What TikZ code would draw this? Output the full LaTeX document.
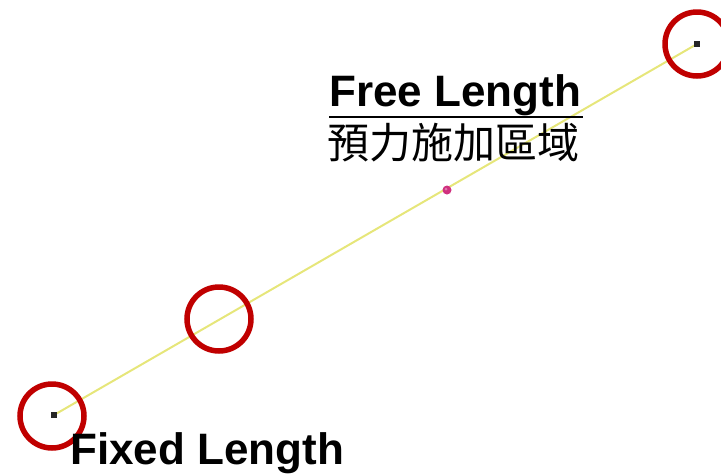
\documentclass[tikz,border=0pt]{standalone}
\usepackage{fontspec}
\setmainfont{Liberation Sans}
\newfontfamily\cjkfont{Noto Sans CJK TC}
\usepackage{tikz}
\usetikzlibrary{calc}
\definecolor{ringred}{HTML}{C00000}
\definecolor{wireyellow}{HTML}{E6E67A}
\definecolor{pinmagenta}{HTML}{D0307F}
\tikzset{
    ring/.style={draw=ringred, line width=5.5pt, circle, minimum size=64pt, inner sep=0pt},
    endmark/.style={fill=black!85, minimum size=5.5pt, inner sep=0pt},
    bigtext/.style={font=\fontsize{44}{44}\selectfont\bfseries, inner sep=0pt}
}

\begin{document}
\begin{tikzpicture}[x=1pt, y=-1pt]
    \useasboundingbox (0,0) rectangle (721,475);

    % Draw tendon
    \coordinate (a) at (54, 415);
    \coordinate (b) at (697, 44);
    \draw[wireyellow, line width=2pt] (a) -- (b);
    \node[endmark] (ma) at (a) {};
    \node[endmark] (mb) at (b) {};

    % Draw rings
    \node[ring] (r1) at (52, 416) {};
    \node[ring] (r2) at (219, 319) {};
    \node[ring] (r3) at (697, 44) {};

    % Draw midpoint
    \coordinate (m) at (447, 190);
    \fill[pinmagenta] (m) circle (4.5);
    \fill[white, opacity=0.35] ($(m)+(-1,-1)$) circle (1.5);

    % Draw labels
    \node[bigtext, anchor=base west] (free) at (329, 106) {Free Length};
    \draw[black, line width=1.3pt] ($(free.base west)+(0,11)$) coordinate (u1) -- ($(free.base east)+(2,11)$) coordinate (u2);
    \node[inner sep=0pt, anchor=north west, font=\cjkfont\fontsize{42}{42}\selectfont] (zone) at (327, 123) {預力施加區域};
    \node[bigtext, anchor=base west] (fixed) at (70, 464) {Fixed Length};
\end{tikzpicture}
\end{document}
